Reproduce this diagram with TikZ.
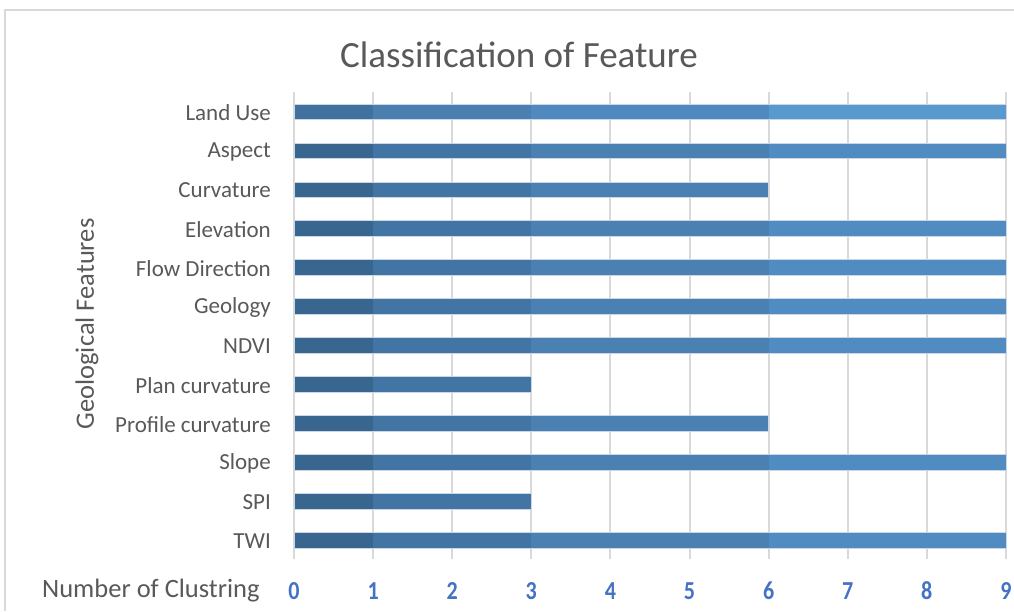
\documentclass[tikz,border=0pt]{standalone}
\usepackage{fontspec}
\setmainfont{Carlito}
\definecolor{D1}{HTML}{39668F}
\definecolor{D2}{HTML}{4375A4}
\definecolor{D3}{HTML}{4B80B3}
\definecolor{D4}{HTML}{508BC2}
\definecolor{T1}{HTML}{41719F}
\definecolor{T2}{HTML}{4A7FB0}
\definecolor{T3}{HTML}{5089C0}
\definecolor{T4}{HTML}{5899CE}
\definecolor{txtgray}{HTML}{595959}
\definecolor{gridgray}{HTML}{D9D9D9}
\definecolor{tickblue}{HTML}{4472C4}
\definecolor{baredge}{HTML}{C9D6E6}
\tikzset{
  gridline/.style={draw=gridgray, line width=2pt},
  frameline/.style={draw=gridgray, line width=1.5pt},
  catlabel/.style={text=txtgray, font=\fontsize{23}{26}\selectfont, anchor=east, inner sep=0pt},
  ticklabel/.style={text=tickblue, font=\bfseries\fontsize{24}{27}\selectfont, inner sep=0pt},
  titletext/.style={text=txtgray, font=\fontsize{37}{42}\selectfont, inner sep=0pt},
  axistitle/.style={text=txtgray, font=\fontsize{26.5}{30}\selectfont, inner sep=0pt},
  baroutline/.style={draw=baredge, line width=0.7pt}
}
\begin{document}
\begin{tikzpicture}[x=1pt,y=-1pt]
\useasboundingbox[fill=white] (0,0) rectangle (1014,611);
\draw[frameline] (5,611) -- (5,10) -- (1014,10);
% grid
\foreach \i in {0,...,9}{
  \draw[gridline] ({294+79.1*\i},92) -- ({294+79.1*\i},559);
  \node[ticklabel] (tick\i) at ({294+79.1*\i},591) {\scalebox{0.92}[1.08]{\i}};
}
% bars
\foreach \r/\name/\v/\p in {0/Land Use/9/T, 1/Aspect/9/D, 2/Curvature/6/D, 3/Elevation/9/D, 4/Flow Direction/9/D, 5/Geology\ /9/D, 6/NDVI/9/D, 7/Plan curvature/3/D, 8/Profile curvature/6/D, 9/Slope/9/D, 10/SPI/3/D, 11/TWI/9/D}{
  \pgfmathsetmacro\yc{111.5+38.98*\r}
  \pgfmathsetmacro\xe{294+79.1*\v}
  \fill[\p1] (294,\yc-7.6) rectangle (373.1,\yc+7.6);
  \fill[\p2] (373.1,\yc-7.6) rectangle (531.3,\yc+7.6);
  \ifnum\v>3
    \fill[\p3] (531.3,\yc-7.6) rectangle (768.6,\yc+7.6);
  \fi
  \ifnum\v>6
    \fill[\p4] (768.6,\yc-7.6) rectangle (1005.9,\yc+7.6);
  \fi
  \draw[baroutline] (294,\yc-7.6) rectangle (\xe,\yc+7.6);
  \node[catlabel] (lab\r) at (271,\yc+1) {\name};
}
\node[titletext] (title) at (519,55) {Classification of Feature};
\node[axistitle, rotate=90] (ytitle) at (87,324) {Geological Features};
\node[axistitle, anchor=west] (xtitle) at (42,591) {Number of Clustring};
\end{tikzpicture}
\end{document}
